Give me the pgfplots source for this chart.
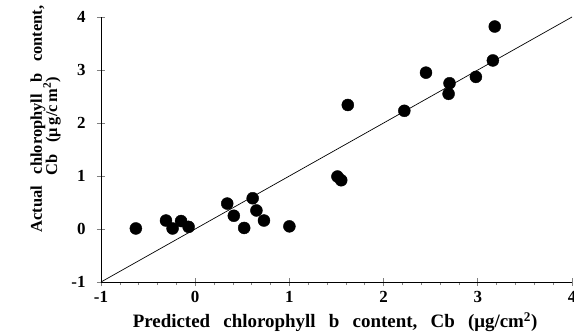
\documentclass[border=0pt]{standalone}
\usepackage{fontspec}
\setmainfont{Liberation Serif}
\newfontfamily\labfont{Liberation Serif}[WordSpace=2.8]
\usepackage{pgfplots}
\pgfplotsset{compat=1.18}
\begin{document}
\begin{tikzpicture}
\begin{axis}[
  scale only axis,
  width=471bp, height=265bp,
  xmin=-1, xmax=4, ymin=-1, ymax=4,
  axis x line*=bottom, axis y line*=left,
  axis line style={line width=0.8pt},
  xtick={-1,0,1,2,3,4}, ytick={-1,0,1,2,3,4},
  minor x tick num=4,
  tick align=center,
  major tick length=8bp,
  minor tick length=3bp,
  xtick style={line width=0.7pt},
  ytick style={line width=0.7pt},
  minor x tick style={yshift=-1.5bp,line width=0.6pt},
  /pgf/number format/assume math mode=true,
  tick label style={font=\fontsize{17}{18}\selectfont\bfseries},
  xticklabel style={yshift=-2bp},
  yticklabel style={xshift=-8bp},
  xlabel={\labfont\bfseries Predicted chlorophyll b content, Cb (μg/cm\textsuperscript{2})},
  ylabel={\labfont\bfseries Actual chlorophyll b content,},
  xlabel style={font=\fontsize{19}{20}\selectfont, at={(axis description cs:0.497,-0.151)}, anchor=center},
  ylabel style={font=\fontsize{16.5}{18}\selectfont, at={(axis description cs:-0.134,0.615)}, anchor=center},
  clip=false,
]
\addplot[black, line width=0.7pt, no marks] coordinates {(-1,-1) (4,4)};
\addplot[only marks, mark=*, mark size=6bp, black] coordinates {
(-0.63,0.01) (-0.31,0.16) (-0.24,0.01) (-0.15,0.15) (-0.07,0.04)
(0.34,0.48) (0.41,0.25) (0.52,0.02) (0.61,0.58) (0.65,0.35) (0.73,0.16)
(1.00,0.05) (1.51,0.99) (1.55,0.92) (1.62,2.34) (2.22,2.23) (2.45,2.95)
(2.70,2.75) (2.69,2.55) (2.98,2.87) (3.16,3.18) (3.18,3.82)
};
\node[rotate=90, anchor=center, font=\fontsize{16.5}{18}\selectfont\labfont\bfseries]
  at (axis description cs:-0.104,0.589) {Cb (μ\,g/c\,m\textsuperscript{2})};
\end{axis}
\pgfresetboundingbox
\path (current axis.south west) ++(-101bp,-51bp) rectangle ++(574bp,333bp);
\end{tikzpicture}
\end{document}
